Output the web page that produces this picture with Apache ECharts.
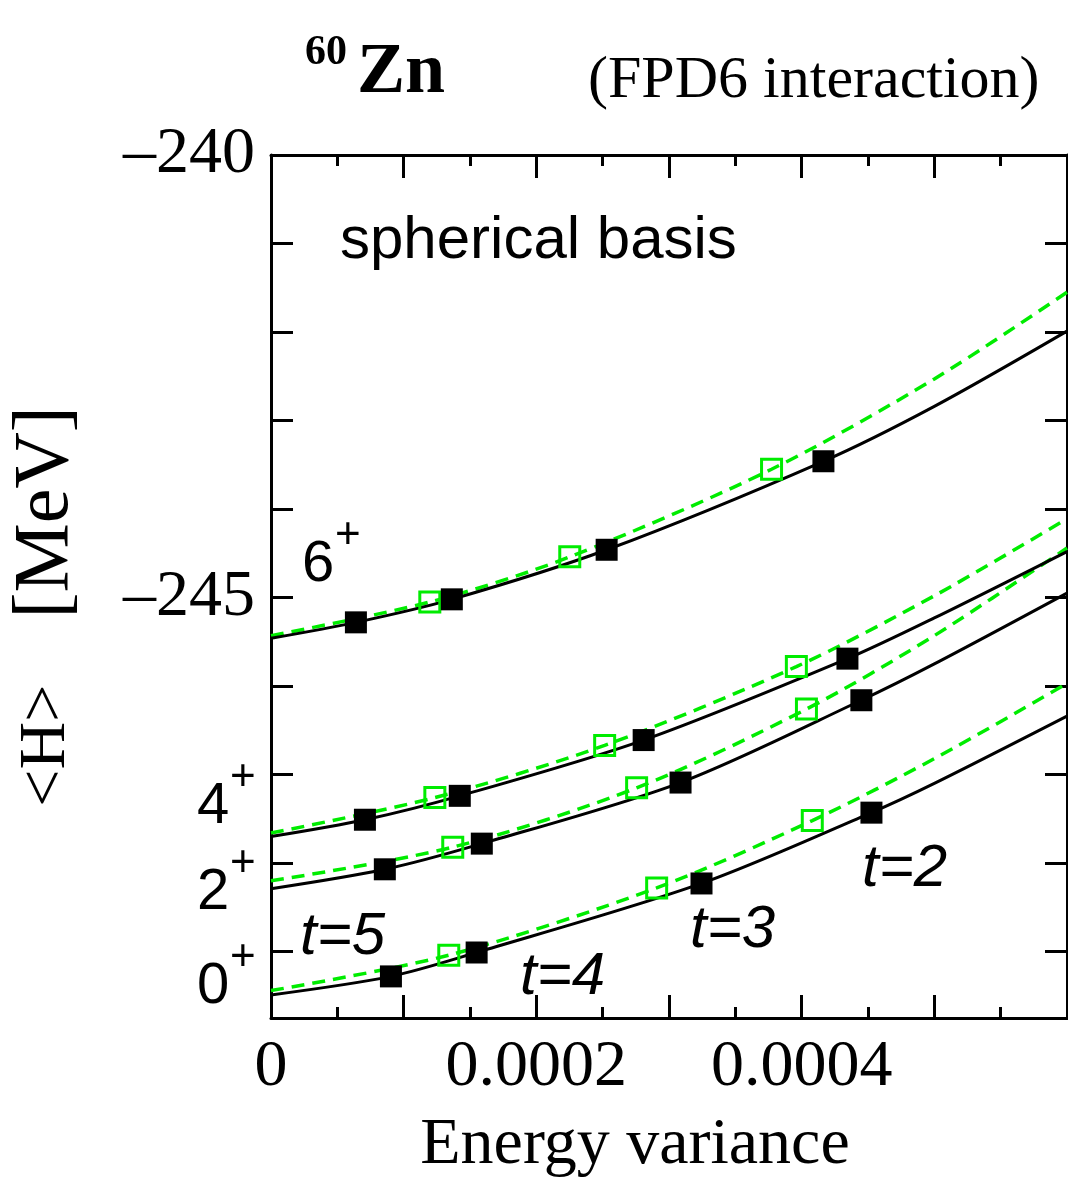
<!DOCTYPE html>
<html>
<head>
<meta charset="utf-8">
<script src="https://cdn.jsdelivr.net/npm/echarts@6/dist/echarts.min.js"></script>
<style>
  html, body { margin: 0; padding: 0; background: #fff; }
  #chart { width: 1068px; height: 1184px; }
</style>
</head>
<body>
<div id="chart"></div>
<script>
// <H> versus energy variance for the lowest 0+, 2+, 4+, 6+ states of 60Zn.
// "solid" = black curve with filled squares, "dashed" = green curve with open squares.
// Squares are the t = 5, 4, 3, 2 truncations (left to right).

// 0+
const var0Solid = [0.0000904, 0.000155, 0.0003245, 0.0004526];
const h0Solid   = [-249.28, -249.01, -248.23, -247.43];
const var0Dash  = [0.000134, 0.0002907, 0.000408];
const h0Dash    = [-249.04, -248.28, -247.52];
const fit0Solid = [[0, -249.49], [0.0005, -247.10], [0.0006, -246.34]];
const fit0Dash  = [[0, -249.44], [0.0005, -246.82], [0.0006, -245.97]];

// 2+
const var2Solid = [0.0000858, 0.0001589, 0.0003087, 0.000445];
const h2Solid   = [-248.07, -247.78, -247.09, -246.16];
const var2Dash  = [0.000137, 0.0002756, 0.0004036];
const h2Dash    = [-247.82, -247.15, -246.26];
const fit2Solid = [[0, -248.29], [0.0005, -245.75], [0.0006, -244.95]];
const fit2Dash  = [[0, -248.20], [0.0005, -245.43], [0.0006, -244.44]];

// 4+
const var4Solid = [0.0000708, 0.0001423, 0.0002809, 0.0004345];
const h4Solid   = [-247.51, -247.24, -246.61, -245.69];
const var4Dash  = [0.0001235, 0.0002515, 0.000396];
const h4Dash    = [-247.26, -246.67, -245.78];
const fit4Solid = [[0, -247.70], [0.0005, -245.23], [0.0006, -244.48]];
const fit4Dash  = [[0, -247.66], [0.0005, -244.98], [0.0006, -244.11]];

// 6+
const var6Solid = [0.0000640, 0.0001363, 0.0002530, 0.0004164];
const h6Solid   = [-245.28, -245.02, -244.46, -243.46];
const var6Dash  = [0.0001197, 0.0002252, 0.0003773];
const h6Dash    = [-245.05, -244.54, -243.55];
const fit6Solid = [[0, -245.46], [0.0005, -242.84], [0.0006, -241.99]];
const fit6Dash  = [[0, -245.43], [0.0005, -242.53], [0.0006, -241.55]];

// Axis ticks and labels
const xLabelValues = [0, 0.0002, 0.0004];
const yTickValues  = [-249, -248, -247, -246, -245, -244, -243, -242, -241, -240];
const yLabelValues = [-245, -240];
const levelNames   = ['0\u207A', '2\u207A', '4\u207A', '6\u207A'];
const truncLabels  = ['t=5', 't=4', 't=3', 't=2'];

const BLACK = '#000000';
const GREEN = '#00ec00';
const SERIF = "'Liberation Serif', 'Times New Roman', serif";
const SANS  = "'Liberation Sans', Arial, sans-serif";

function points(xs, ys) { return xs.map((x, i) => [x, ys[i]]); }
function curve(xs, ys, extra) {
  return extra.concat(points(xs, ys)).sort((a, b) => a[0] - b[0]);
}

const sets = [
  { vs: var0Solid, hs: h0Solid, vd: var0Dash, hd: h0Dash, fs: fit0Solid, fd: fit0Dash },
  { vs: var2Solid, hs: h2Solid, vd: var2Dash, hd: h2Dash, fs: fit2Solid, fd: fit2Dash },
  { vs: var4Solid, hs: h4Solid, vd: var4Dash, hd: h4Dash, fs: fit4Solid, fd: fit4Dash },
  { vs: var6Solid, hs: h6Solid, vd: var6Dash, hd: h6Dash, fs: fit6Solid, fd: fit6Dash }
];

const series = [];
sets.forEach((s, k) => {
  series.push({
    type: 'line', name: levelNames[k] + ' dashed', data: curve(s.vd, s.hd, s.fd),
    smooth: 0.3, showSymbol: false, silent: true, z: 2,
    lineStyle: { color: GREEN, width: 3.5, type: [13, 8] }
  });
  series.push({
    type: 'line', name: levelNames[k] + ' solid', data: curve(s.vs, s.hs, s.fs),
    smooth: 0.3, showSymbol: false, silent: true, z: 3,
    lineStyle: { color: BLACK, width: 3 }
  });
  series.push({
    type: 'scatter', data: points(s.vd, s.hd), symbol: 'rect', symbolSize: 20,
    silent: true, z: 4,
    itemStyle: { color: 'rgba(0,0,0,0)', borderColor: GREEN, borderWidth: 3, opacity: 1 }
  });
  series.push({
    type: 'scatter', data: points(s.vs, s.hs), symbol: 'rect', symbolSize: 22,
    silent: true, z: 5,
    itemStyle: { color: BLACK, opacity: 1 }
  });
});

const axisLine = { show: true, onZero: false, lineStyle: { color: BLACK, width: 3 } };
const tickLine = { color: BLACK, width: 3 };

const xBase = {
  type: 'value', min: 0, max: 0.0006, interval: 0.0001,
  axisLine: axisLine,
  axisTick: { show: true, inside: true, length: 23, lineStyle: tickLine },
  minorTick: { show: true, splitNumber: 2, length: 11, lineStyle: tickLine },
  splitLine: { show: false }, minorSplitLine: { show: false }
};
const yBase = {
  type: 'value', min: -249.75, max: -240,
  axisLine: axisLine,
  axisTick: { show: true, inside: true, length: 22, lineStyle: tickLine, customValues: yTickValues },
  splitLine: { show: false }
};

const text = (str, x, y, font, extra) => ({
  type: 'text', x: x, y: y, silent: true,
  style: Object.assign({ text: str, font: font, fill: BLACK, align: 'left', verticalAlign: 'middle' }, extra || {})
});

const levelPos = [[197, 987], [197, 893], [197, 807], [302, 565]];
const truncPos = [[300, 937], [520, 977], [690, 930], [862, 869]];

const graphics = [
  text('spherical basis', 340, 241, '60px ' + SANS)
];
levelNames.forEach((n, k) => {
  graphics.push(text(n.charAt(0), levelPos[k][0], levelPos[k][1], '58px ' + SANS));
  graphics.push(text('+', levelPos[k][0] + 33, levelPos[k][1] - 29, '44px ' + SANS));
});
truncLabels.forEach((t, k) => {
  graphics.push(text(t, truncPos[k][0], truncPos[k][1], 'italic 60px ' + SANS));
});

const chart = echarts.init(document.getElementById('chart'), null, { renderer: 'canvas' });
chart.setOption({
  animation: false,
  backgroundColor: '#fff',
  title: [
    { text: '60', left: 300, top: 27, textStyle: { fontFamily: SERIF, fontWeight: 'bold', fontSize: 42, color: BLACK } },
    { text: 'Zn', left: 352, top: 32, textStyle: { fontFamily: SERIF, fontWeight: 'bold', fontSize: 72, color: BLACK } },
    { text: '(FPD6 interaction)', left: 583, top: 46, textStyle: { fontFamily: SERIF, fontWeight: 'normal', fontSize: 60, color: BLACK } }
  ],
  grid: { left: 271, right: 1, top: 155, bottom: 164, containLabel: false },
  xAxis: [
    Object.assign({}, xBase, {
      position: 'bottom',
      axisLabel: {
        customValues: xLabelValues, margin: 17, color: BLACK, fontFamily: SERIF, fontSize: 66,
        formatter: v => (v === 0 ? '0' : v.toFixed(4))
      },
      name: 'Energy variance', nameLocation: 'middle', nameGap: 95,
      nameTextStyle: { color: BLACK, fontFamily: SERIF, fontSize: 66, lineHeight: 66, padding: [0, 68, 0, 0] }
    }),
    Object.assign({}, xBase, { position: 'top', axisLabel: { show: false } })
  ],
  yAxis: [
    Object.assign({}, yBase, {
      position: 'left',
      axisLabel: {
        customValues: yLabelValues, margin: 16, color: BLACK, fontFamily: SERIF, fontSize: 66,
        formatter: v => '\u2013' + Math.abs(v)
      },
      name: '{h|<H>}{g|\u2003}{u|[MeV]}', nameLocation: 'middle', nameRotate: 90, nameGap: 190,
      nameTextStyle: {
        color: BLACK, fontFamily: SERIF, fontSize: 68, lineHeight: 68, padding: [0, 40, 0, 0],
        rich: {
          h: { fontFamily: SERIF, fontSize: 66, color: BLACK },
          g: { fontFamily: SERIF, fontSize: 66, color: BLACK },
          u: { fontFamily: SERIF, fontSize: 78, color: BLACK }
        }
      }
    }),
    Object.assign({}, yBase, { position: 'right', axisLabel: { show: false } })
  ],
  series: series,
  graphic: graphics
});
</script>
</body>
</html>
